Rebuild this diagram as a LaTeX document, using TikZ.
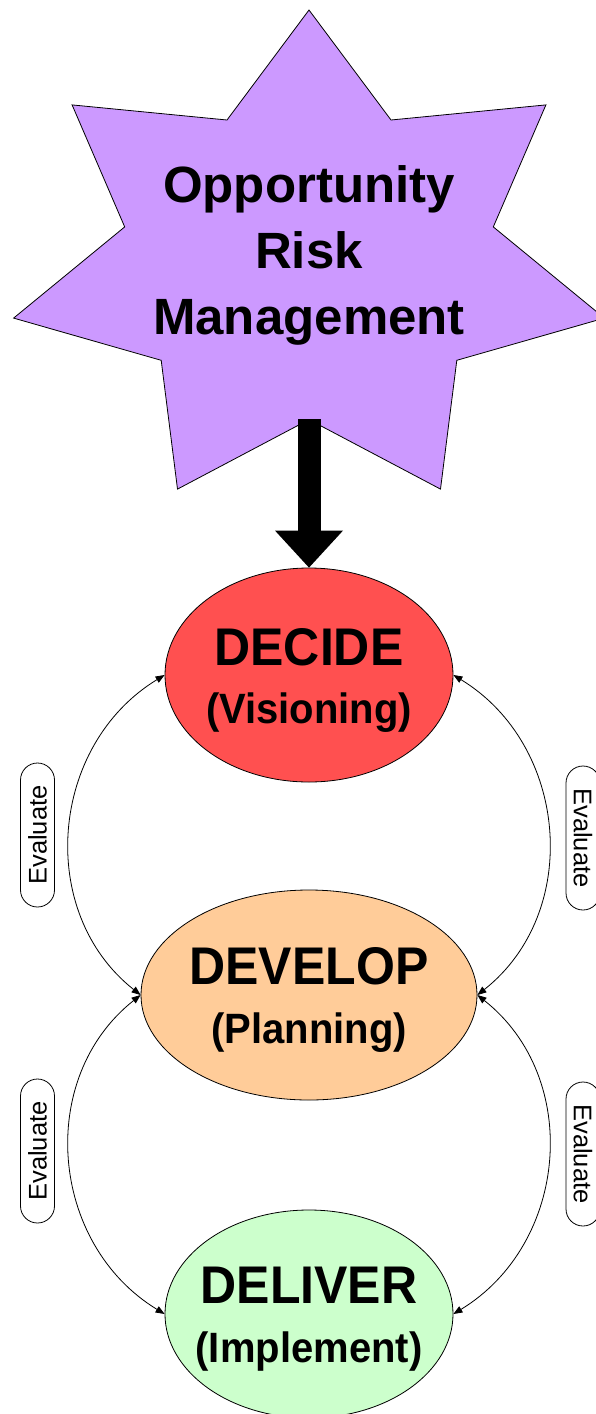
\documentclass[tikz,border=0pt]{standalone}
\usepackage{fontspec}
\usepackage{graphicx}
\setmainfont{Liberation Sans}
\usetikzlibrary{shapes.geometric,arrows.meta}
\definecolor{starfill}{RGB}{204,153,255}
\definecolor{decidefill}{RGB}{255,80,80}
\definecolor{developfill}{RGB}{255,204,153}
\definecolor{deliverfill}{RGB}{204,255,204}
\newcommand{\tallbox}[1]{\scalebox{1}[1.06]{#1}}
\begin{document}
\begin{tikzpicture}[x=1pt,y=-1pt,
  phase/.style={ellipse, draw=black, line width=0.8pt, inner sep=0pt},
  titleline/.style={anchor=base, inner sep=0pt, font=\bfseries\fontsize{50}{59}\selectfont},
  subline/.style={anchor=base, inner sep=0pt, font=\bfseries\fontsize{40}{59}\selectfont},
  starline/.style={anchor=base, inner sep=0pt, font=\bfseries\fontsize{51}{66}\selectfont},
  evalbox/.style={draw, line width=0.8pt, rounded corners=17pt, minimum width=144pt, minimum height=34pt, inner sep=0pt, font=\fontsize{25.5}{30}\selectfont},
  evalcurve/.style={line width=0.8pt, {Triangle[length=9pt,width=7pt]}-{Triangle[length=9pt,width=7pt]}}
]
\useasboundingbox (0,0) rectangle (596,1414);

% star
\draw[fill=starfill, line width=0.8pt] (309,10) -- (391.0,120.0) -- (545.9,104.9) -- (493.3,226.9) -- (604.4,318.1) -- (456.8,360.3) -- (440.5,489.1) -- (309,419.6) -- (177.5,489.1) -- (161.2,360.3) -- (13.6,318.1) -- (124.7,226.9) -- (72.1,104.9) -- (227.0,120.0) -- cycle;
\node[starline] (orm1) at (309,202) {Opportunity};
\node[starline] (orm2) at (309,268) {Risk};
\node[starline] (orm3) at (309,334) {Management};
\coordinate (sb) at (309,419);

% phases
\node[phase, fill=decidefill, minimum width=288pt, minimum height=214pt] (decide) at (309,675) {};
\node[phase, fill=developfill, minimum width=336pt, minimum height=210pt] (develop) at (309,995) {};
\node[phase, fill=deliverfill, minimum width=288pt, minimum height=208pt] (deliver) at (309,1314) {};

\node[titleline] (decide1) at (309,665) {\tallbox{DECIDE}};
\node[subline] (decide2) at (309,723) {\tallbox{(Visioning)}};
\node[titleline] (develop1) at (309,984) {\tallbox{DEVELOP}};
\node[subline] (develop2) at (309,1043) {\tallbox{(Planning)}};
\node[titleline] (deliver1) at (309,1303) {\tallbox{DELIVER}};
\node[subline] (deliver2) at (309,1362) {\tallbox{(Implement)}};

% big arrow
\draw[line width=23pt, -{Triangle[length=37pt,width=68pt,line width=0pt]}] (sb) -- (decide.north);

% evaluate loops
\draw[evalcurve] (decide.west) .. controls +(-115,70) and +(-105,-83) .. (develop.west);
\draw[evalcurve] (develop.west) .. controls +(-105,83) and +(-115,-70) .. (deliver.west);
\draw[evalcurve] (decide.east) .. controls +(115,70) and +(105,-83) .. (develop.east);
\draw[evalcurve] (develop.east) .. controls +(105,83) and +(115,-70) .. (deliver.east);

\node[evalbox, rotate=90] (ev1) at (37.5,835) {Evaluate};
\node[evalbox, rotate=-90] (ev2) at (583,838) {Evaluate};
\node[evalbox, rotate=90] (ev3) at (37.5,1151) {Evaluate};
\node[evalbox, rotate=-90] (ev4) at (583,1154) {Evaluate};
\end{tikzpicture}
\end{document}
